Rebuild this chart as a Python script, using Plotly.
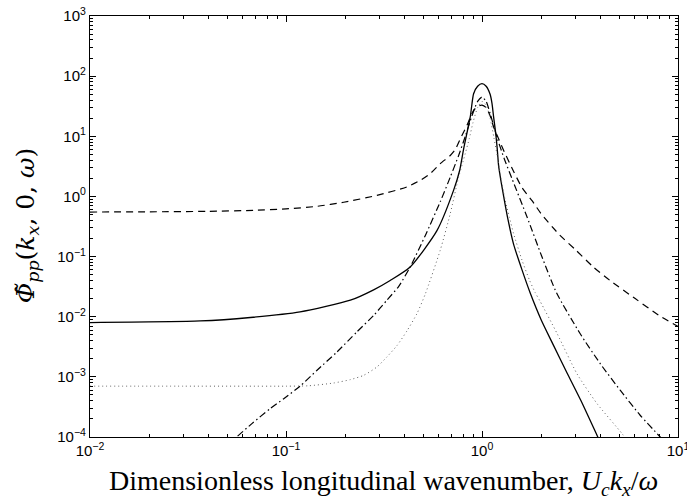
import plotly.graph_objects as go

# Wavenumber-frequency spectrum models, normalised, at zero transverse wavenumber
solid_x = [0.01, 0.0365, 0.0658, 0.118, 0.213, 0.28, 0.34, 0.43, 0.589, 0.716,
           0.769, 0.806, 0.871, 0.906, 0.95, 1.0, 1.05, 1.10, 1.125, 1.146,
           1.17, 1.194, 1.216, 1.25, 1.29, 1.35, 1.45, 1.6, 1.76, 2.0,
           2.3, 2.72, 3.2, 3.86, 4.1]
solid_y = [0.0080, 0.0085, 0.0097, 0.012, 0.0188, 0.028, 0.040, 0.067, 0.27, 1.26,
           2.7, 6.2, 21, 51, 68, 75, 68, 50, 35, 21,
           12.6, 6.6, 3.2, 1.8, 1.0, 0.45, 0.16, 0.06, 0.025, 0.009,
           0.0035, 0.00115, 0.0004, 0.000107, 7.0e-5]

dashed_x = [0.01, 0.02, 0.04, 0.0684, 0.1, 0.144, 0.197, 0.291, 0.414, 0.484,
            0.545, 0.612, 0.689, 0.73, 0.775, 0.838, 0.906, 0.96, 1.0, 1.05,
            1.1, 1.146, 1.2, 1.3, 1.45, 1.6, 1.8, 2.0, 2.5, 3.0,
            3.7, 4.5, 6.05, 8.0, 10.0]
dashed_y = [0.55, 0.555, 0.565, 0.587, 0.62, 0.685, 0.80, 1.04, 1.44, 1.85,
            2.4, 3.5, 4.8, 6.0, 9.1, 15.2, 27, 32, 33, 30,
            22, 14.3, 10, 5.5, 2.6, 1.4, 0.85, 0.52, 0.225, 0.13,
            0.067, 0.04, 0.020, 0.0105, 0.0069]

dashdot_x = [0.05, 0.056, 0.067, 0.083, 0.097, 0.118, 0.144, 0.182, 0.23, 0.28,
             0.327, 0.376, 0.43, 0.514, 0.612, 0.689, 0.76, 0.822, 0.889, 0.95,
             1.0, 1.05, 1.1, 1.2, 1.3, 1.42, 1.7, 2.02, 2.4, 3.17,
             4.01, 5.07, 6.41, 7.96, 8.5]
dashdot_y = [7.2e-5, 1.0e-4, 1.67e-4, 2.96e-4, 4.3e-4, 7.0e-4, 1.29e-3, 2.59e-3, 5.6e-3, 0.0105,
             0.0188, 0.032, 0.067, 0.225, 0.81, 2.1, 4.8, 10, 22, 38,
             45, 38, 24, 9, 4.2, 2.0, 0.45, 0.1, 0.025, 0.0052,
             0.00166, 6.0e-4, 2.3e-4, 1.07e-4, 8.5e-5]

dotted_x = [0.01, 0.03, 0.06, 0.1, 0.13, 0.175, 0.213, 0.249, 0.291, 0.327,
            0.368, 0.414, 0.466, 0.514, 0.612, 0.689, 0.76, 0.822, 0.86, 0.9,
            0.95, 1.0, 1.05, 1.1, 1.15, 1.2, 1.25, 1.31, 1.38, 1.45,
            1.6, 1.75, 1.87, 1.98, 2.42, 3.05, 3.86, 5.18, 5.6]
dotted_y = [7.0e-4, 7.0e-4, 7.0e-4, 7.0e-4, 7.1e-4, 7.9e-4, 9.0e-4, 1.06e-3, 1.46e-3, 2.14e-3,
            3.3e-3, 5.8e-3, 0.0113, 0.024, 0.127, 0.52, 2.1, 5.2, 9, 17,
            30, 38, 33, 20, 9.5, 4.5, 2.0, 0.9, 0.45, 0.24,
            0.087, 0.04, 0.025, 0.018, 5.2e-3, 1.13e-3, 3.6e-4, 1.14e-4, 8.0e-5]

x_exponents = [-2, -1, 0, 1]
y_exponents = [-4, -3, -2, -1, 0, 1, 2, 3]


def decade_ticks(exps):
    vals = [10.0 ** e for e in exps]
    text = ["10<sup>%s</sup>" % (str(e).replace("-", "\u2212")) for e in exps]
    minor = [k * 10.0 ** e for e in exps[:-1] for k in range(2, 10)]
    return vals, text, minor


xv, xt, xm = decade_ticks(x_exponents)
yv, yt, ym = decade_ticks(y_exponents)

fig = go.Figure()
fig.add_trace(go.Scatter(x=solid_x, y=solid_y, mode="lines",
                         line=dict(color="black", width=1.3, shape="spline", smoothing=0.6)))
fig.add_trace(go.Scatter(x=dashed_x, y=dashed_y, mode="lines",
                         line=dict(color="black", width=1.2, dash="7px,5px", shape="spline", smoothing=0.6)))
fig.add_trace(go.Scatter(x=dashdot_x, y=dashdot_y, mode="lines",
                         line=dict(color="black", width=1.2, dash="7px,3px,1.5px,3px", shape="spline", smoothing=0.6)))
fig.add_trace(go.Scatter(x=dotted_x, y=dotted_y, mode="lines",
                         line=dict(color="#606060", width=1, dash="1px,3px", shape="spline", smoothing=0.6)))

axis_common = dict(
    type="log", showgrid=False, zeroline=False, automargin=False,
    showline=True, linecolor="black", linewidth=1.2, mirror="allticks",
    ticks="inside", ticklen=6, tickwidth=1, tickcolor="black",
    ticklabeloverflow="allow",
    tickfont=dict(family="Liberation Sans, Arial, sans-serif", size=15, color="black"),
)

fig.update_layout(
    width=687, height=503,
    margin=dict(l=90, r=9, t=16, b=66, autoexpand=False),
    paper_bgcolor="white", plot_bgcolor="white",
    showlegend=False,
    xaxis=dict(range=[-2, 1], tickvals=xv, ticktext=xt,
               minor=dict(tickvals=xm, ticks="inside", ticklen=3, tickcolor="black", tickwidth=0.8),
               **axis_common),
    yaxis=dict(range=[-4, 3], tickvals=yv, ticktext=yt,
               minor=dict(tickvals=ym, ticks="inside", ticklen=3, tickcolor="black", tickwidth=0.8),
               **axis_common),
    annotations=[
        dict(text="Dimensionless longitudinal wavenumber, <i>U<sub>c</sub>k<sub>x</sub></i>/<i>ω</i>",
             xref="paper", yref="paper", x=0.499, y=-0.108, xanchor="center", yanchor="middle",
             showarrow=False,
             font=dict(family="Liberation Serif, DejaVu Serif, serif", size=28, color="black")),
        dict(text="<i>Φ̃<sub>pp</sub></i>(<i>k<sub>x</sub></i>, 0, <i>ω</i>)",
             xref="paper", yref="paper", x=-0.107, y=0.503, xanchor="center", yanchor="middle",
             textangle=-90, showarrow=False,
             font=dict(family="DejaVu Serif, serif", size=25, color="black")),
    ],
)

fig.write_html("out.html")
